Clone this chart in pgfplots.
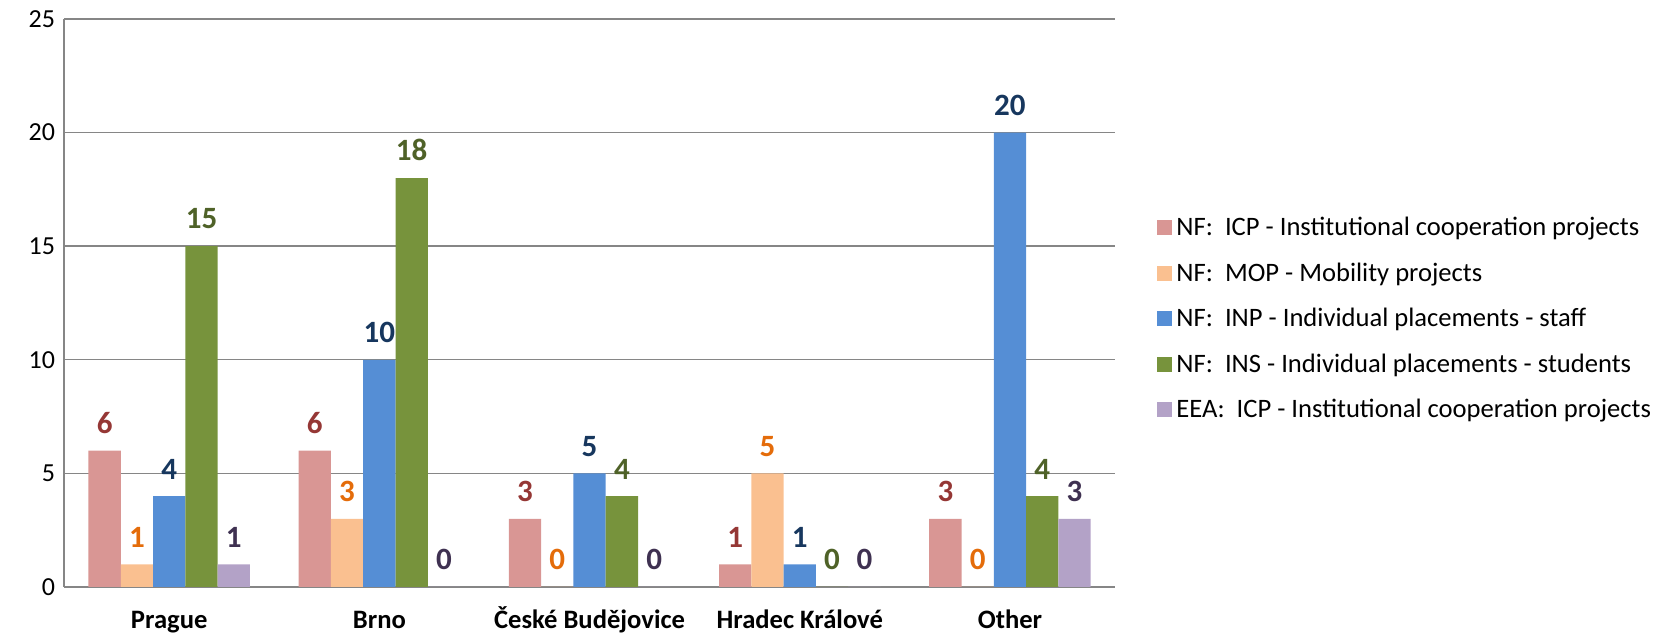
\documentclass[border=0pt]{standalone}
\usepackage{pgfplots}
\pgfplotsset{compat=1.18}
\usepackage{fontspec}
\setmainfont{Carlito}
\definecolor{fICP}{HTML}{D99694}
\definecolor{fMOP}{HTML}{FAC090}
\definecolor{fINP}{HTML}{558ED5}
\definecolor{fINS}{HTML}{77933C}
\definecolor{fEEA}{HTML}{B3A2C7}
\definecolor{tICP}{HTML}{953735}
\definecolor{tMOP}{HTML}{E46C0A}
\definecolor{tINP}{HTML}{17375E}
\definecolor{tINS}{HTML}{4F6228}
\definecolor{tEEA}{HTML}{3F3151}
\definecolor{gridc}{HTML}{868686}
\begin{document}
\begin{tikzpicture}
\begin{axis}[
  scale only axis, width=525.5pt, height=284pt,
  clip=false,
  ybar=0pt, bar width=16.15pt,
  xmin=-0.5, xmax=4.5, ymin=0, ymax=25,
  xtick={0,1,2,3,4},
  xticklabels={Prague,Brno,České Budějovice,Hradec Králové,Other},
  xticklabel style={font=\fontsize{13.3}{15}\selectfont\bfseries, anchor=north,
    inner sep=0pt, text height=10pt, text depth=0pt, yshift=-10.5pt},
  ytick={0,5,10,15,20,25},
  yticklabel style={font=\fontsize{13}{15}\selectfont, xshift=-1pt},
  /pgf/number format/assume math mode=true,
  major tick length=0pt,
  ymajorgrids, grid style={draw=gridc, line width=0.7pt},
  axis x line*=bottom, axis y line*=left,
  axis line style={draw=gridc, line width=0.7pt, -},
  nodes near coords,
  every node near coord/.append style={font=\fontsize{15.5}{17}\selectfont\bfseries, yshift=5pt},
  legend style={draw=none, at={(1.04,0.472)}, anchor=west,
    font=\fontsize{13.3}{16}\selectfont, row sep=8pt, inner sep=0pt},
  legend cell align=left,
  legend image code/.code={\fill[#1] (0pt,-3.75pt) rectangle (7.5pt,3.75pt);},
]
\addplot[fill=fICP, draw=none, every node near coord/.append style={text=tICP}]
  coordinates {(0,6) (1,6) (2,3) (3,1) (4,3)};
\addplot[fill=fMOP, draw=none, every node near coord/.append style={text=tMOP}]
  coordinates {(0,1) (1,3) (2,0) (3,5) (4,0)};
\addplot[fill=fINP, draw=none, every node near coord/.append style={text=tINP}]
  coordinates {(0,4) (1,10) (2,5) (3,1) (4,20)};
\addplot[fill=fINS, draw=none, every node near coord/.append style={text=tINS}]
  coordinates {(0,15) (1,18) (2,4) (3,0) (4,4)};
\addplot[fill=fEEA, draw=none, every node near coord/.append style={text=tEEA}]
  coordinates {(0,1) (1,0) (2,0) (3,0) (4,3)};
\legend{NF:\ \ ICP - Institutional cooperation projects,
        NF:\ \ MOP - Mobility projects,
        NF:\ \ INP - Individual placements - staff,
        NF:\ \ INS - Individual placements - students,
        EEA:\ \ ICP - Institutional cooperation projects}
\path (rel axis cs:-0.061,-0.0845) rectangle (rel axis cs:1.529,1.0335);
\end{axis}
\end{tikzpicture}
\end{document}
